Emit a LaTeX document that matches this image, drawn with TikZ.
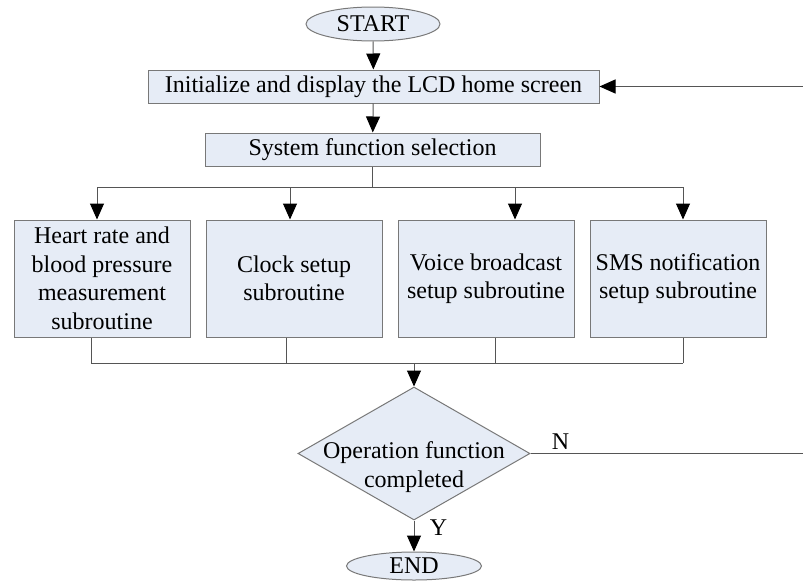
\documentclass[tikz,border=0pt]{standalone}
\usepackage{fontspec}
\setmainfont{Liberation Serif}
\usetikzlibrary{shapes,arrows.meta,positioning}
\definecolor{boxfill}{RGB}{230,236,246}
\definecolor{boxline}{RGB}{120,120,120}
\definecolor{flowline}{RGB}{85,85,85}

\begin{document}
\begin{tikzpicture}[x=1pt, y=1pt, >={Triangle[length=16pt,width=14pt,color=black]},
line width=1pt, every node/.style={font=\fontsize{24}{28.5}\selectfont},
term/.style={ellipse, draw=boxline, fill=boxfill, minimum width=134pt, minimum height=34pt, inner sep=0pt},
proc/.style={rectangle, draw=boxline, fill=boxfill, minimum height=33pt, inner sep=0pt},
sub/.style={rectangle, draw=boxline, fill=boxfill, minimum width=176pt, minimum height=117pt, align=center, inner sep=0pt},
decide/.style={diamond, draw=boxline, fill=boxfill, minimum width=232pt, minimum height=133pt, inner sep=0pt},
flow/.style={draw=flowline}]
        \useasboundingbox (0,0) rectangle (803,-581);
        \node [term] (start) at (373,-24) {START};
        \node [proc, minimum width=451pt] (lcd) at (373.5,-86.5) {Initialize and display the LCD home screen};
        \node [proc, minimum width=335pt] (sel) at (372.5,-149.5) {System function selection};
        \node [sub] (heart) at (102,-278.5) {Heart rate and\\blood pressure\\measurement\\subroutine};
        \node [sub] (clock) at (294,-278.5) {Clock setup\\subroutine};
        \node [sub] (voice) at (486,-278.5) {Voice broadcast\\setup subroutine};
        \node [sub] (sms) at (678,-278.5) {SMS notification\\setup subroutine};
        \node [decide] (done) at (414,-453.5) {};
        \node [align=center] (donetext) at (414,-467) {Operation function\\completed};
        \node [term, minimum width=135pt, minimum height=28pt] (end) at (414,-566) {END};
        % branch and merge points
        \coordinate (split) at (372.5,-187);
        \coordinate (s1) at (97,-187);
        \coordinate (s2) at (290,-187);
        \coordinate (s3) at (515,-187);
        \coordinate (s4) at (683,-187);
        \coordinate (m1) at (91,-363);
        \coordinate (m2) at (286,-363);
        \coordinate (m3) at (495,-363);
        \coordinate (m4) at (683,-363);
        \coordinate (join) at (414,-363);
        \coordinate (back) at (804,-453.5);
        \path [->, flow] (start) edge (lcd);
        \path [->, flow] (lcd) edge (sel);
        \draw [flow] (sel) -- (split);
        \draw [flow] (s1) -- (s4);
        \foreach \s/\b in {s1/heart, s2/clock, s3/voice, s4/sms}
            \draw [->, flow] (\s) -- (\s |- \b.north);
        \foreach \m/\b in {m1/heart, m2/clock, m3/voice, m4/sms}
            \draw [flow] (\m |- \b.south) -- (\m);
        \draw [flow] (m1) -- (m4);
        \draw [->, flow] (join) -- (done.north);
        \draw [->, flow] (done.south) -- node [right=12pt, pos=0.22] {Y} (end);
        \draw [->, flow] (done.east) -- node [above, pos=0.11] {N} (back) |- (lcd.east);
\end{tikzpicture}
\end{document}
